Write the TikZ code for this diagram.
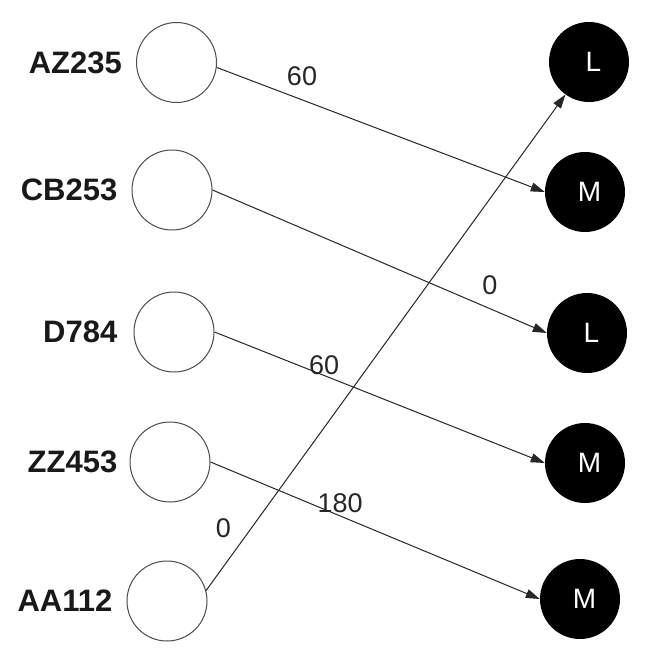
\documentclass[tikz,border=0pt]{standalone}
\usepackage{fontspec}
\setmainfont{Liberation Sans}
\usetikzlibrary{arrows.meta}
\tikzset{
  src/.style={circle, draw=black!70, line width=1pt, fill=white,
              minimum size=80pt, inner sep=0pt},
  dst/.style={circle, fill=black, minimum size=80pt, inner sep=0pt,
              text=white, font=\fontsize{28}{30}\selectfont},
  tag/.style={font=\bfseries\fontsize{31}{33}\selectfont, anchor=east,
              inner sep=0pt, text=black!90},
  wt/.style={font=\fontsize{27}{29}\selectfont, text=black!85, inner sep=0pt},
  link/.style={draw=black!85, line width=1pt,
               -{Triangle[length=14pt,width=9pt]}},
}
\newcommand{\ltr}[1]{\hspace*{9pt}#1}
\begin{document}
\begin{tikzpicture}[x=1pt, y=-1pt]
  \fill[white] (0,0) rectangle (645,653);
  \useasboundingbox (0,0) rectangle (645,653);

  % flights on the left
  \node[src] (a1) at (176.5, 62.5) {};
  \node[src] (a2) at (172, 190) {};
  \node[src] (a3) at (174, 332) {};
  \node[src] (a4) at (170, 462) {};
  \node[src] (a5) at (167, 601) {};

  \node[tag] (n1) at ([xshift=-14pt]a1.west) {AZ235};
  \node[tag] (n2) at ([xshift=-14pt]a2.west) {CB253};
  \node[tag] (n3) at ([xshift=-16pt]a3.west) {D784};
  \node[tag] (n4) at ([xshift=-12pt]a4.west) {ZZ453};
  \node[tag] (n5) at ([xshift=-14pt]a5.west) {AA112};

  % slots on the right
  \node[dst] (b1) at (589, 62)  {\ltr{L}};
  \node[dst] (b2) at (585, 192) {\ltr{M}};
  \node[dst] (b3) at (587, 333) {\ltr{L}};
  \node[dst] (b4) at (585, 463) {\ltr{M}};
  \node[dst] (b5) at (580, 599) {\ltr{M}};

  % weighted assignments
  \draw[link] (a1.-7) -- (b2.west)
    node[wt, pos=0.26, yshift=24pt] {60};
  \draw[link] (a2.east) -- (b3.west)
    node[wt, pos=0.83, yshift=23pt] {0};
  \draw[link] (a3.east) -- (b4.west)
    node[wt, pos=0.332, yshift=10pt] {60};
  \draw[link] (a4.east) -- (b5.west)
    node[wt, pos=0.394, yshift=13pt] {180};
  \draw[link] (a5.15) -- (b1)
    node[wt, pos=0.126, xshift=-28pt] {0};
\end{tikzpicture}
\end{document}
